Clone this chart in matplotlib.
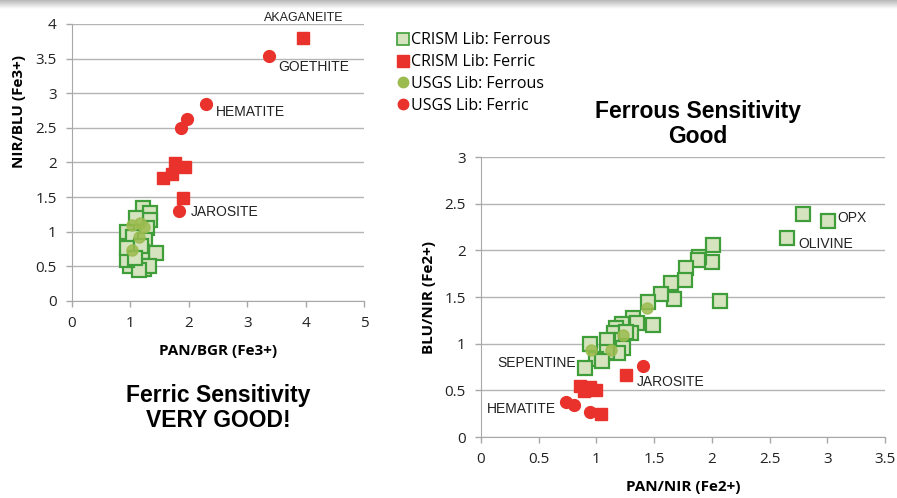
import numpy as np
import matplotlib.pyplot as plt
from matplotlib.lines import Line2D

# --- Fe3+ ratio plot (PAN/BGR vs NIR/BLU) ---
crism_fe2_x1 = [1.21, 1.33, 1.34, 0.94, 1.28, 1.05, 1.25, 1.43, 1.00, 1.20, 1.05, 1.00,
                1.23, 1.31, 1.14, 0.94, 0.94, 1.10, 1.18, 1.08]
crism_fe2_y1 = [1.34, 1.27, 1.17, 1.00, 1.05, 0.93, 0.88, 0.69, 0.66, 0.71, 0.57, 0.50,
                0.46, 0.50, 0.45, 0.59, 0.76, 1.20, 0.80, 0.62]
crism_fe3_x1 = [3.96, 1.76, 1.94, 1.72, 1.55, 1.90]
crism_fe3_y1 = [3.80, 1.99, 1.94, 1.83, 1.78, 1.49]
usgs_fe2_x1 = [1.03, 1.24, 1.14, 1.03, 1.17]
usgs_fe2_y1 = [1.10, 1.07, 0.93, 0.74, 1.12]
usgs_fe3_x1 = [3.37, 2.30, 1.97, 1.87, 1.84]
usgs_fe3_y1 = [3.54, 2.85, 2.63, 2.50, 1.30]

# --- Fe2+ ratio plot (PAN/NIR vs BLU/NIR) ---
crism_fe2_x2 = [2.79, 3.01, 2.65, 2.01, 2.00, 1.89, 1.88, 1.78, 1.77, 1.65, 1.67, 1.56,
                2.07, 1.45, 1.49, 1.32, 1.35, 1.22, 1.17, 1.15, 1.30, 1.22, 1.09, 1.23,
                1.19, 1.09, 0.94, 1.00, 1.05, 0.90, 1.26]
crism_fe2_y2 = [2.39, 2.31, 2.13, 2.06, 1.88, 1.93, 1.90, 1.81, 1.68, 1.65, 1.48, 1.53,
                1.46, 1.45, 1.20, 1.27, 1.22, 1.21, 1.17, 1.11, 1.11, 1.04, 1.04, 0.95,
                0.90, 0.91, 1.00, 0.84, 0.81, 0.74, 1.13]
crism_fe3_x2 = [1.26, 0.86, 0.94, 1.00, 0.89, 1.04]
crism_fe3_y2 = [0.66, 0.55, 0.54, 0.50, 0.49, 0.25]
usgs_fe2_x2 = [1.44, 1.23, 1.13, 0.95]
usgs_fe2_y2 = [1.38, 1.09, 0.93, 0.93]
usgs_fe3_x2 = [1.40, 0.74, 0.81, 0.94]
usgs_fe3_y2 = [0.76, 0.38, 0.34, 0.27]

GREEN_EDGE = '#3f9e3a'
GREEN_FACE = '#d6e3bf'
RED = '#e8322b'
OLIVE = '#9cbb4f'

tick_font = 'Open Sans'
label_font = 'Liberation Sans'

fig = plt.figure(figsize=(8.97, 4.98), dpi=100)
fig.patch.set_facecolor('white')

# grey band across the top
band = fig.add_axes([0, 1 - 9 / 498, 1, 9 / 498])
band.imshow(np.linspace(0.72, 1.0, 50).reshape(-1, 1), cmap='gray', vmin=0, vmax=1,
            aspect='auto', extent=[0, 1, 0, 1])
band.axis('off')


def style_axes(ax, xmax, ymax, xstep, ystep):
    ax.set_xlim(0, xmax)
    ax.set_ylim(0, ymax)
    ax.set_xticks(np.arange(0, xmax + 1e-9, xstep))
    ax.set_yticks(np.arange(0, ymax + 1e-9, ystep))
    ax.xaxis.set_major_formatter(plt.FuncFormatter(lambda v, p: f'{v:g}'))
    ax.yaxis.set_major_formatter(plt.FuncFormatter(lambda v, p: f'{v:g}'))
    ax.grid(axis='y', color='#b4b4b4', lw=1)
    ax.set_axisbelow(True)
    for s in ['top', 'right']:
        ax.spines[s].set_visible(False)
    for s in ['left', 'bottom']:
        ax.spines[s].set_color('#a8a8a8')
    ax.tick_params(colors='#a8a8a8', length=4, width=1, direction='out', pad=7)
    for lbl in ax.get_xticklabels() + ax.get_yticklabels():
        lbl.set_fontfamily(tick_font)
        lbl.set_fontsize(11)
        lbl.set_color('#222222')


def draw_series(ax, gx, gy, rx, ry, ox, oy, cx, cy):
    ax.plot(gx, gy, 's', ms=10, mfc=GREEN_FACE, mec=GREEN_EDGE, mew=1.6, clip_on=False)
    ax.plot(ox, oy, 'o', ms=8, mfc=OLIVE, mec=OLIVE, alpha=0.85, clip_on=False)
    ax.plot(rx, ry, 's', ms=9, mfc=RED, mec=RED, clip_on=False)
    ax.plot(cx, cy, 'o', ms=8.5, mfc=RED, mec=RED, clip_on=False)


ann = dict(fontfamily=label_font, fontsize=10, color='#222222')
axlab = dict(fontfamily=tick_font, fontweight='bold', fontsize=11)

# left panel
ax1 = fig.add_axes([72 / 897, 1 - 301 / 498, 292 / 897, 277 / 498])
style_axes(ax1, 5, 4, 1, 0.5)
draw_series(ax1, crism_fe2_x1, crism_fe2_y1, crism_fe3_x1, crism_fe3_y1,
            usgs_fe2_x1, usgs_fe2_y1, usgs_fe3_x1, usgs_fe3_y1)
ax1.set_xlabel('PAN/BGR (Fe3+)', labelpad=9, **axlab)
ax1.set_ylabel('NIR/BLU (Fe3+)', **axlab)
ax1.yaxis.set_label_coords(-46 / 292, (301 - 112) / 277)
ax1.text(3.96, 4.09, 'AKAGANEITE', ha='center', va='center', clip_on=False,
         fontfamily=label_font, fontsize=9, color='#222222', fontstretch='condensed')
ax1.text(3.54, 3.38, 'GOETHITE', ha='left', va='center', **ann)
ax1.text(2.47, 2.73, 'HEMATITE', ha='left', va='center', **ann)
ax1.text(2.03, 1.29, 'JAROSITE', ha='left', va='center', **ann)

# right panel
ax2 = fig.add_axes([481 / 897, 61 / 498, 404 / 897, 280 / 498])
style_axes(ax2, 3.5, 3, 0.5, 0.5)
draw_series(ax2, crism_fe2_x2, crism_fe2_y2, crism_fe3_x2, crism_fe3_y2,
            usgs_fe2_x2, usgs_fe2_y2, usgs_fe3_x2, usgs_fe3_y2)
ax2.set_xlabel('PAN/NIR (Fe2+)', labelpad=9, **axlab)
ax2.set_ylabel('BLU/NIR (Fe2+)', labelpad=6, **axlab)
ax2.text(3.09, 2.35, 'OPX', ha='left', va='center', **ann)
ax2.text(2.75, 2.07, 'OLIVINE', ha='left', va='center', **ann)
ax2.text(0.82, 0.79, 'SEPENTINE', ha='right', va='center', **ann)
ax2.text(1.35, 0.59, 'JAROSITE', ha='left', va='center', **ann)
ax2.text(0.65, 0.30, 'HEMATITE', ha='right', va='center', **ann)

# titles
fig.text(218 / 897, 1 - 408 / 498, 'Ferric Sensitivity\nVERY GOOD!', ha='center', va='center',
         fontfamily=label_font, fontweight='bold', fontsize=16.5, linespacing=1.1)
fig.text(698 / 897, 1 - 124 / 498, 'Ferrous Sensitivity\nGood', ha='center', va='center',
         fontfamily=label_font, fontweight='bold', fontsize=16.5, linespacing=1.1)

# legend
handles = [
    Line2D([], [], ls='', marker='s', ms=8.5, mfc=GREEN_FACE, mec=GREEN_EDGE, mew=1.2),
    Line2D([], [], ls='', marker='s', ms=8.5, mfc=RED, mec=RED),
    Line2D([], [], ls='', marker='o', ms=7.5, mfc=OLIVE, mec=OLIVE),
    Line2D([], [], ls='', marker='o', ms=7.5, mfc=RED, mec=RED),
]
names = ['CRISM Lib: Ferrous', 'CRISM Lib: Ferric', 'USGS Lib: Ferrous', 'USGS Lib: Ferric']
fig.legend(handles, names, loc='upper left', bbox_to_anchor=(381 / 897, 1 - 18 / 498),
           frameon=False, handletextpad=0.1, handlelength=0.9, labelspacing=0.36,
           prop={'family': tick_font, 'size': 11.5})

fig.savefig('out.png', dpi=100)
